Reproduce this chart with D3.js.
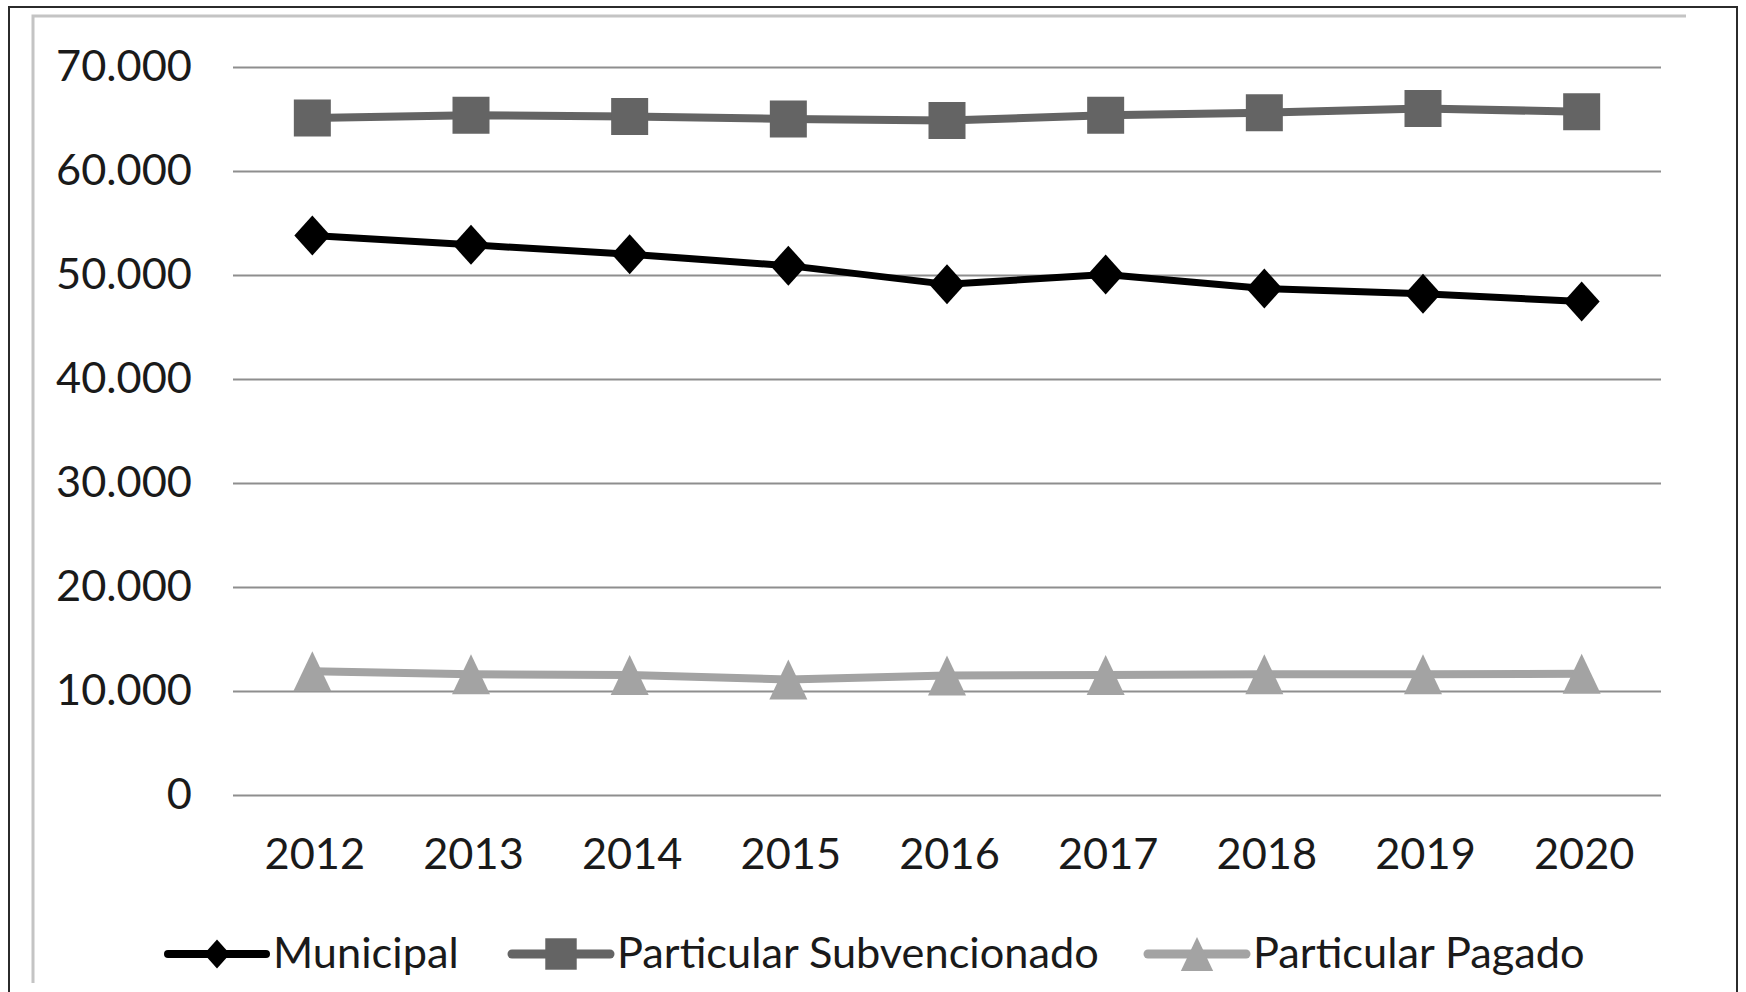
<!DOCTYPE html>
<html>
<head>
<meta charset="utf-8">
<script src="https://cdn.jsdelivr.net/npm/d3@7"></script>
<style>
    html, body { margin: 0; padding: 0; background: #fff; }
    svg { display: block; }
    text { font-family: Lato, 'Open Sans', sans-serif; fill: #1a1a1a; }
</style>
</head>
<body>
<div class="Canvas"></div>
<script>
let years = ['2012', '2013', '2014', '2015', '2016', '2017', '2018', '2019', '2020'];
let municipal = [53800, 52900, 52000, 50900, 49100, 50050, 48700, 48200, 47450];
let subvencionado = [65100, 65350, 65250, 65000, 64850, 65350, 65600, 66000, 65700];
let pagado = [11900, 11600, 11550, 11100, 11500, 11550, 11600, 11600, 11650];
let yTicks = [0, 10000, 20000, 30000, 40000, 50000, 60000, 70000];
let seriesNames = ['Municipal', 'Particular Subvencionado', 'Particular Pagado'];

let width = 1746;
let height = 992;
let plotLeft = 233, plotRight = 1661, plotTop = 67, plotBottom = 795;

let svg = d3.select('.Canvas').append('svg').attr('width', width).attr('height', height);

// frame of the scanned picture
let frame = svg.append('g');
frame.append('path').attr('d', `M9,${height} V7 H1737 V${height}`)
    .attr('fill', 'none').attr('stroke', '#2b2b2b').attr('stroke-width', 2);
frame.append('path').attr('d', 'M33,983 V16 H1686')
    .attr('fill', 'none').attr('stroke', '#c4c4c4').attr('stroke-width', 3);

// pick a font size so the text widths come out like the reference
let probe = svg.append('text').attr('font-size', 100).text('Particular Subvencionado');
let fontSize = (100 * 482) / probe.node().getComputedTextLength();
probe.remove();

let x = d3.scalePoint().domain(years).range([plotLeft, plotRight]).padding(0.5);
let y = d3.scaleLinear().domain([0, 70000]).range([plotBottom, plotTop]);
let fmt = (d) => d3.format(',')(d).replace(/,/g, '.');

let yAxis = svg.append('g')
    .call(d3.axisLeft(y).tickValues(yTicks).tickSize(-(plotRight - plotLeft)).tickFormat(fmt))
    .attr('transform', `translate(${plotLeft},0)`);
yAxis.select('.domain').remove();
yAxis.selectAll('.tick line').attr('stroke', '#8e8e8e').attr('stroke-width', 2.2);
yAxis.selectAll('.tick text')
    .attr('x', -41).attr('dy', 13)
    .attr('font-size', fontSize).attr('fill', '#1a1a1a');

let xAxis = svg.append('g')
    .call(d3.axisBottom(x).tickSize(0))
    .attr('transform', `translate(0,${plotBottom})`);
xAxis.select('.domain').remove();
xAxis.selectAll('.tick text')
    .attr('x', 2).attr('y', 0).attr('dy', 74)
    .attr('font-size', fontSize).attr('fill', '#1a1a1a');

let series = [
    { name: seriesNames[0], values: municipal, color: '#000000', width: 7, shape: 'diamond' },
    { name: seriesNames[1], values: subvencionado, color: '#646464', width: 8, shape: 'square' },
    { name: seriesNames[2], values: pagado, color: '#a3a3a3', width: 8, shape: 'triangle' },
];

function markerPath(shape, s) {
    // s = scale, 1 for plot markers
    if (shape == 'diamond') {
        let w = 18 * s, h = 20 * s;
        return `M0,${-h} L${w},0 L0,${h} L${-w},0 Z`;
    } else if (shape == 'square') {
        let w = 18.5 * s;
        return `M${-w},${-w} H${w} V${w} H${-w} Z`;
    } else {
        let w = 19 * s, h = 20 * s;
        return `M0,${-h} L${w},${h} L${-w},${h} Z`;
    }
}

let line = d3.line().x((d, i) => x(years[i])).y((d) => y(d));

series.forEach((s) => {
    let g = svg.append('g');
    g.append('path')
        .datum(s.values)
        .attr('d', line)
        .attr('fill', 'none')
        .attr('stroke', s.color)
        .attr('stroke-width', s.width)
        .attr('stroke-linejoin', 'round');
    g.selectAll('path.marker')
        .data(s.values)
        .enter()
        .append('path')
        .attr('class', 'marker')
        .attr('d', markerPath(s.shape, 1))
        .attr('fill', s.color)
        .attr('transform', (d, i) => `translate(${x(years[i])},${y(d)})`);
});

// legend
let legendStart = [168, 512, 1148];
let legendY = 954;
series.forEach((s, i) => {
    let g = svg.append('g').attr('transform', `translate(${legendStart[i]},${legendY})`);
    g.append('line')
        .attr('x1', 0).attr('x2', 98)
        .attr('stroke', s.color).attr('stroke-width', s.width + 1)
        .attr('stroke-linecap', 'round');
    g.append('path')
        .attr('d', markerPath(s.shape, s.shape == 'diamond' ? 0.72 : 0.85))
        .attr('fill', s.color)
        .attr('transform', 'translate(49,0)');
    g.append('text')
        .attr('x', 105).attr('y', 14)
        .attr('font-size', fontSize)
        .text(s.name);
});
</script>
</body>
</html>
